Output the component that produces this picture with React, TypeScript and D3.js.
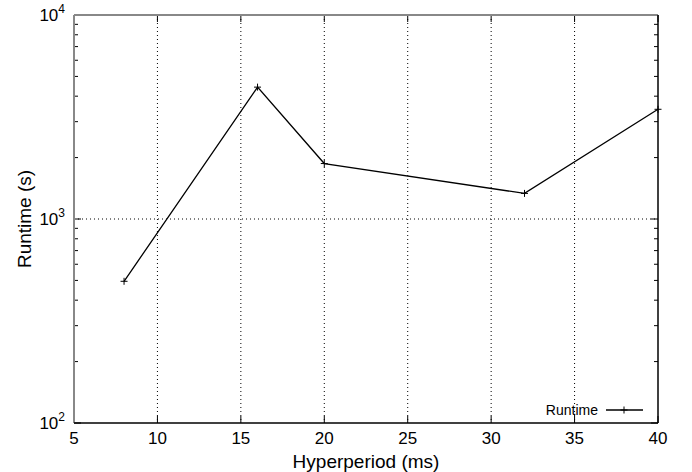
import React from 'react';
import * as d3 from 'd3';

const hyperperiods = [8, 16, 20, 32, 40];
const runtimes = [495, 4430, 1870, 1335, 3450];
const xTicks = [5, 10, 15, 20, 25, 30, 35, 40];
const yDecades = [2, 3, 4];
const seriesName = 'Runtime';

const App = () => {
  const width = 692;
  const height = 472;
  const m = { left: 74, right: 34, top: 15, bottom: 49 };
  const x = d3.scaleLinear().domain([5, 40]).range([m.left, width - m.right]);
  const y = d3.scaleLog().domain([100, 10000]).range([height - m.bottom, m.top]);
  const font = '"Liberation Sans", Arial, Helvetica, sans-serif';

  const pts = hyperperiods.map((h, i) => [x(h), y(runtimes[i])] as [number, number]);
  const line = d3.line()(pts) || '';

  // minor log ticks 2..9 per decade
  const minors: number[] = [];
  for (let d = 100; d < 10000; d *= 10) {
    for (let k = 2; k <= 9; k++) minors.push(d * k);
  }

  const L = x(5), R = x(40), T = y(10000), B = y(100);

  const plus = (cx: number, cy: number, key: string) => (
    <g key={key} stroke="#000" strokeWidth={1}>
      <line x1={cx - 3.5} x2={cx + 3.5} y1={cy} y2={cy} />
      <line x1={cx} x2={cx} y1={cy - 3.5} y2={cy + 3.5} />
    </g>
  );

  return (
    <svg width={width} height={height} style={{ position: 'absolute', left: 0, top: 0 }}>
      <rect width={width} height={height} fill="#fff" />
      {/* grid */}
      {xTicks.filter(t => t > 5 && t < 40).map(t => (
        <line key={'gx' + t} x1={x(t)} x2={x(t)} y1={T} y2={B} stroke="#000" strokeWidth={1} strokeDasharray="1,3" />
      ))}
      <line x1={L} x2={R} y1={y(1000)} y2={y(1000)} stroke="#000" strokeWidth={1} strokeDasharray="1,3" />
      {/* minor ticks */}
      {minors.map(v => (
        <g key={'mt' + v} stroke="#000" strokeWidth={1}>
          <line x1={L} x2={L + 4} y1={y(v)} y2={y(v)} />
          <line x1={R} x2={R - 4} y1={y(v)} y2={y(v)} />
        </g>
      ))}
      {yDecades.map(d => (
        <g key={'mj' + d} stroke="#000" strokeWidth={1}>
          <line x1={L} x2={L + 7} y1={y(10 ** d)} y2={y(10 ** d)} />
          <line x1={R} x2={R - 7} y1={y(10 ** d)} y2={y(10 ** d)} />
        </g>
      ))}
      {xTicks.map(t => (
        <g key={'xt' + t} stroke="#000" strokeWidth={1}>
          <line x1={x(t)} x2={x(t)} y1={B} y2={B - 7} />
          <line x1={x(t)} x2={x(t)} y1={T} y2={T + 7} />
        </g>
      ))}
      {/* frame */}
      <line x1={L} x2={R} y1={T} y2={T} stroke="#888" strokeWidth={2} />
      <line x1={L} x2={L} y1={T} y2={B} stroke="#888" strokeWidth={2} />
      <line x1={L} x2={R} y1={B} y2={B} stroke="#000" strokeWidth={1.5} />
      <line x1={R} x2={R} y1={T} y2={B} stroke="#000" strokeWidth={1.5} />
      {/* data */}
      <path d={line} fill="none" stroke="#000" strokeWidth={1.3} />
      {pts.map((p, i) => plus(p[0], p[1], 'p' + i))}
      {/* tick labels */}
      {xTicks.map(t => (
        <text key={'xl' + t} x={x(t)} y={B + 21} textAnchor="middle" fontFamily={font} fontSize={17}>{t}</text>
      ))}
      {yDecades.map(d => (
        <text key={'yl' + d} x={L - 9} y={y(10 ** d) + 6} textAnchor="end" fontFamily={font} fontSize={17}>
          10<tspan dy={-8} fontSize={12}>{d}</tspan>
        </text>
      ))}
      {/* axis titles */}
      <text x={(L + R) / 2} y={height - 4} textAnchor="middle" fontFamily={font} fontSize={19}>Hyperperiod (ms)</text>
      <text transform={`translate(31,${(T + B) / 2}) rotate(-90)`} textAnchor="middle" fontFamily={font} fontSize={19}>Runtime (s)</text>
      {/* legend */}
      <text x={598} y={415} textAnchor="end" fontFamily={font} fontSize={14}>{seriesName}</text>
      <line x1={606} x2={643} y1={410} y2={410} stroke="#000" strokeWidth={1.3} />
      {plus(624, 410, 'leg')}
    </svg>
  );
};

export default App;
